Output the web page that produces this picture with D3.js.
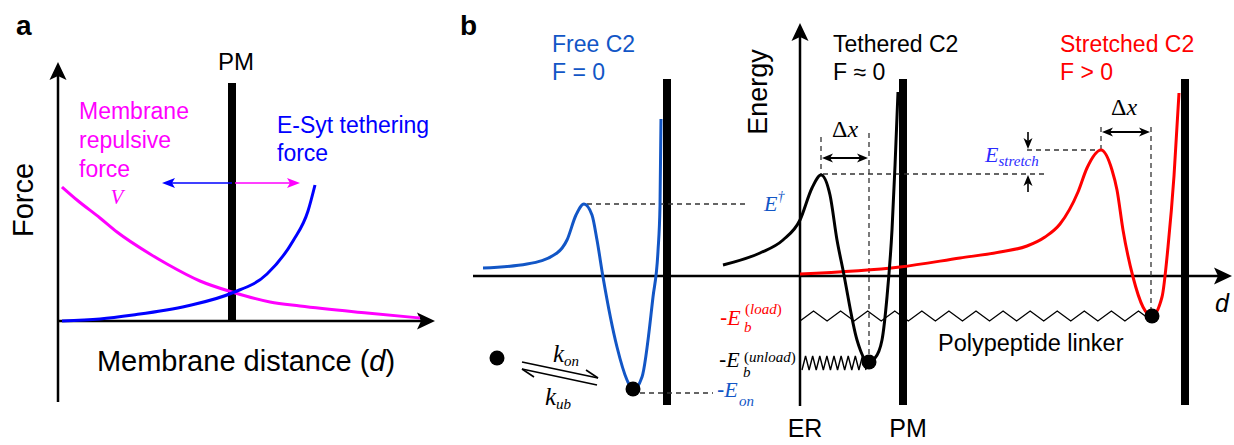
<!DOCTYPE html>
<html><head><meta charset="utf-8">
<script src="https://cdn.jsdelivr.net/npm/d3@7"></script>
<style>body{margin:0;background:#fff}svg{display:block}</style>
</head><body>
<svg id="c" width="1234" height="445"></svg>
<script>
// ---------- Panel a data (d = membrane distance, F = force; schematic units) ----------
const repulsiveForce = [[4,134],[19,121],[42,103],[59,89],[92,67],[109,57],[142,40],[174,29],[212,19],[242,15],[309,8],[362,3]];
const tetheringForce = [[4,0],[42,2],[75,6],[129,15],[174,28],[209,47],[235,80],[250,110],[257,136]];
const pmA = {d:174, top:238};
const forceArrowF = 138;
const repulsiveArrow = [177, 242];
const tetheringArrow = [174, 104];

// ---------- Panel b data (d offset from ER, energy; schematic units) ----------
const freeC2 = [[-317,8],[-273,12],[-243,23],[-233,36],[-224,61],[-216,72],[-208,61],[-203,36],[-197,-1],[-183,-71],[-173,-104],[-167,-114],[-158,-101],[-147,-21],[-142,25],[-140,70],[-139,157]];
const tetheredC2 = [[-77,11],[-40,23],[-17,36],[0,56],[12,88],[21,101],[30,81],[37,36],[43,6],[57,-64],[68,-86],[75,-82],[82,-64],[87,-21],[92,46],[95,110],[98,184]];
const stretchedC2 = [[0,2],[100,9],[160,18],[200,24],[227,30],[245,39],[260,52],[278,84],[287,108],[301,126],[312,106],[317,86],[323,46],[333,-1],[343,-31],[352,-40],[362,-21],[368,29],[374,100],[379,183]];
const membranesB = [-133, 103, 385];
const membraneTopB = 197, membraneBottomB = -129;
const boundStates = [[-167,-113,'#000'],[69,-86,'#000'],[352,-40,'#000']];
const freeState = [-303,-82];
const barrierFree = {d:-216, E:72, dashEnd:-52};
const onLevel = {E:-117, from:-160, to:-87};
const tetheredDx = {peak:21, well:69, top:143, arrowE:118};
const stretchedDx = {peak:301, well:351, top:149, arrowE:144};
const tetheredBarrierLine = {E:102, from:23, to:246};
const stretchedBarrierLine = {E:126, from:227, to:301};
const eStretchArrowD = 228;
const linker = {from:0, to:352, E:-40, amp:5, teeth:13};
const spring = {from:2, to:66, E:-87, amp:7, teeth:9};

const sans = "'Liberation Sans', Arial, Helvetica, sans-serif";
const serif = "'Liberation Serif', 'Times New Roman', serif";
const BLUE_B = '#1256c6', BLUE_A = '#0000ff', MAG = '#ff00ff', RED = '#ff0000', BLUE_S = '#2b2bff';

const svg = d3.select('#c');

const xa = d3.scaleLinear().domain([0,377]).range([58,435]);
const ya = d3.scaleLinear().domain([0,260]).range([321,61]);
const xb = d3.scaleLinear().domain([-330,435]).range([470,1235]);
const yb = d3.scaleLinear().domain([-130,255]).range([406,21]);

function head(g, x, y, ang, len, wid, notch, color){
  g.append('path')
    .attr('d', `M0,0 L${-len},${-wid/2} L${-len+notch},0 L${-len},${wid/2} Z`)
    .attr('transform', `translate(${x},${y}) rotate(${ang})`)
    .attr('fill', color);
}
function txt(g, x, y, s, size, opts={}){
  const t = g.append('text').attr('x',x).attr('y',y)
    .attr('font-family', opts.family||sans).attr('font-size',size)
    .attr('fill', opts.fill||'#000');
  if(opts.anchor) t.attr('text-anchor',opts.anchor);
  if(opts.italic) t.attr('font-style','italic');
  if(opts.bold) t.attr('font-weight','bold');
  t.text(s);
  return t;
}

// ================= Panel a =================
const A = svg.append('g');
txt(A, 16, 35, 'a', 28, {bold:true});
A.append('line').attr('x1',xa(0)).attr('x2',xa(0)).attr('y1',ya(-81)).attr('y2',ya(250)).attr('stroke','#000').attr('stroke-width',2.5);
head(A, xa(0), ya(259), -90, 18, 17, 4, '#000');
A.append('line').attr('x1',xa(0)).attr('x2',xa(367)).attr('y1',ya(0)).attr('y2',ya(0)).attr('stroke','#000').attr('stroke-width',2.5);
head(A, xa(377), ya(0), 0, 18, 17, 4, '#000');
A.append('line').attr('x1',xa(pmA.d)).attr('x2',xa(pmA.d)).attr('y1',ya(0)).attr('y2',ya(pmA.top)).attr('stroke','#000').attr('stroke-width',8);
const lineA = d3.line().x(d=>xa(d[0])).y(d=>ya(d[1])).curve(d3.curveMonotoneX);
A.append('path').attr('d',lineA(repulsiveForce)).attr('fill','none').attr('stroke',MAG).attr('stroke-width',3);
A.append('path').attr('d',lineA(tetheringForce)).attr('fill','none').attr('stroke',BLUE_A).attr('stroke-width',3);
A.append('line').attr('x1',xa(tetheringArrow[0])).attr('x2',xa(tetheringArrow[1])+8).attr('y1',ya(forceArrowF)).attr('y2',ya(forceArrowF)).attr('stroke',BLUE_A).attr('stroke-width',1.6);
head(A, xa(tetheringArrow[1]), ya(forceArrowF), 180, 13, 10, 3, BLUE_A);
A.append('line').attr('x1',xa(repulsiveArrow[0])).attr('x2',xa(repulsiveArrow[1])-8).attr('y1',ya(forceArrowF)).attr('y2',ya(forceArrowF)).attr('stroke',MAG).attr('stroke-width',1.6);
head(A, xa(repulsiveArrow[1]), ya(forceArrowF), 0, 13, 10, 3, MAG);
txt(A, xa(178), ya(251), 'PM', 24, {anchor:'middle'});
txt(A, xa(21), ya(202), 'Membrane', 23, {fill:MAG});
txt(A, xa(21), ya(173), 'repulsive', 23, {fill:MAG});
txt(A, xa(21), ya(144), 'force', 23, {fill:MAG});
txt(A, xa(59), ya(117), 'V', 21, {fill:MAG, family:serif, italic:true, anchor:'middle'});
txt(A, xa(219), ya(188), 'E-Syt tethering', 23, {fill:BLUE_A});
txt(A, xa(219), ya(160), 'force', 23, {fill:BLUE_A});
A.append('text').attr('transform',`translate(${xa(-25)},${ya(121)}) rotate(-90)`)
  .attr('text-anchor','middle').attr('font-family',sans).attr('font-size',29).text('Force');
const xl = A.append('text').attr('x',xa(188)).attr('y',ya(-50)).attr('text-anchor','middle')
  .attr('font-family',sans).attr('font-size',29);
xl.append('tspan').text('Membrane distance (');
xl.append('tspan').attr('font-style','italic').text('d');
xl.append('tspan').text(')');

// ================= Panel b =================
const B = svg.append('g');
txt(B, 460, 35, 'b', 28, {bold:true});
const lineB = d3.line().x(d=>xb(d[0])).y(d=>yb(d[1])).curve(d3.curveMonotoneX);
const dash = (g,x1,y1,x2,y2)=>g.append('line').attr('x1',x1).attr('y1',y1).attr('x2',x2).attr('y2',y2)
  .attr('stroke','#333').attr('stroke-width',1.3).attr('stroke-dasharray','5,4');

B.append('line').attr('x1',xb(-327)).attr('x2',xb(422)).attr('y1',yb(0)).attr('y2',yb(0)).attr('stroke','#000').attr('stroke-width',2.5);
head(B, xb(432), yb(0), 0, 18, 17, 4, '#000');
B.append('line').attr('x1',xb(0)).attr('x2',xb(0)).attr('y1',yb(-130)).attr('y2',yb(243)).attr('stroke','#000').attr('stroke-width',2.5);
head(B, xb(0), yb(253), -90, 18, 17, 4, '#000');

membranesB.forEach(m=>{
  B.append('line').attr('x1',xb(m)).attr('x2',xb(m)).attr('y1',yb(membraneBottomB)).attr('y2',yb(membraneTopB))
    .attr('stroke','#000').attr('stroke-width',8);
});

dash(B, xb(barrierFree.d+3), yb(barrierFree.E), xb(barrierFree.dashEnd), yb(barrierFree.E));
dash(B, xb(onLevel.from), yb(onLevel.E), xb(onLevel.to), yb(onLevel.E));
dash(B, xb(tetheredDx.peak), yb(tetheredDx.top-4), xb(tetheredDx.peak), yb(101));
dash(B, xb(tetheredDx.well), yb(tetheredDx.top), xb(tetheredDx.well), yb(-86));
dash(B, xb(tetheredBarrierLine.from), yb(tetheredBarrierLine.E), xb(tetheredBarrierLine.to), yb(tetheredBarrierLine.E));
dash(B, xb(stretchedBarrierLine.from), yb(stretchedBarrierLine.E), xb(stretchedBarrierLine.to), yb(stretchedBarrierLine.E));
dash(B, xb(stretchedDx.peak), yb(stretchedDx.top), xb(stretchedDx.peak), yb(126));
dash(B, xb(stretchedDx.well), yb(stretchedDx.top), xb(stretchedDx.well), yb(-40));

[tetheredDx, stretchedDx].forEach(o=>{
  const y = yb(o.arrowE);
  B.append('line').attr('x1',xb(o.peak)+4).attr('x2',xb(o.well)-4).attr('y1',y).attr('y2',y).attr('stroke','#000').attr('stroke-width',1.8);
  head(B, xb(o.peak)+1, y, 180, 11, 9, 3, '#000');
  head(B, xb(o.well)-1, y, 0, 11, 9, 3, '#000');
});
B.append('line').attr('x1',xb(eStretchArrowD)).attr('x2',xb(eStretchArrowD)).attr('y1',yb(144)).attr('y2',yb(132)).attr('stroke','#000').attr('stroke-width',1.6);
head(B, xb(eStretchArrowD), yb(126)-1, 90, 11, 9, 3, '#000');
B.append('line').attr('x1',xb(eStretchArrowD)).attr('x2',xb(eStretchArrowD)).attr('y1',yb(84)).attr('y2',yb(96)).attr('stroke','#000').attr('stroke-width',1.6);
head(B, xb(eStretchArrowD), yb(102)+1, -90, 11, 9, 3, '#000');

function zig(o){
  const pts=[]; const n=o.teeth*2; const step=(o.to-o.from)/n;
  for(let i=0;i<=n;i++) pts.push([o.from+i*step, o.E + (i%2===0? -o.amp : o.amp)]);
  return pts;
}
B.append('path').attr('d',d3.line().x(d=>xb(d[0])).y(d=>yb(d[1]))(zig(linker))).attr('fill','none').attr('stroke','#000').attr('stroke-width',1.4);
B.append('path').attr('d',d3.line().x(d=>xb(d[0])).y(d=>yb(d[1]))(zig(spring))).attr('fill','none').attr('stroke','#000').attr('stroke-width',1.4);

B.append('path').attr('d',lineB(freeC2)).attr('fill','none').attr('stroke',BLUE_B).attr('stroke-width',3);
B.append('path').attr('d',lineB(stretchedC2)).attr('fill','none').attr('stroke',RED).attr('stroke-width',3);
B.append('path').attr('d',lineB(tetheredC2)).attr('fill','none').attr('stroke','#000').attr('stroke-width',3);

boundStates.forEach(s=>B.append('circle').attr('cx',xb(s[0])).attr('cy',yb(s[1])).attr('r',7.5).attr('fill',s[2]));
B.append('circle').attr('cx',xb(freeState[0])).attr('cy',yb(freeState[1])).attr('r',7.5).attr('fill','#000');

const kTop = [[-278,-86],[-202,-102]], kBot = [[-278,-93],[-203,-109]];
B.append('line').attr('x1',xb(kTop[0][0])).attr('y1',yb(kTop[0][1])).attr('x2',xb(kTop[1][0])).attr('y2',yb(kTop[1][1])).attr('stroke','#000').attr('stroke-width',1.6);
B.append('line').attr('x1',xb(kTop[1][0])).attr('y1',yb(kTop[1][1])).attr('x2',xb(kTop[1][0])-12).attr('y2',yb(kTop[1][1])-8).attr('stroke','#000').attr('stroke-width',1.6);
B.append('line').attr('x1',xb(kBot[0][0])).attr('y1',yb(kBot[0][1])).attr('x2',xb(kBot[1][0])).attr('y2',yb(kBot[1][1])).attr('stroke','#000').attr('stroke-width',1.6);
B.append('line').attr('x1',xb(kBot[0][0])).attr('y1',yb(kBot[0][1])).attr('x2',xb(kBot[0][0])+12).attr('y2',yb(kBot[0][1])+8).attr('stroke','#000').attr('stroke-width',1.6);
const kon = B.append('text').attr('x',xb(-247)).attr('y',yb(-86)).attr('font-family',serif).attr('font-style','italic').attr('font-size',25);
kon.append('tspan').text('k'); kon.append('tspan').attr('font-size',15).attr('dy',4).text('on');
const kub = B.append('text').attr('x',xb(-255)).attr('y',yb(-129)).attr('font-family',serif).attr('font-style','italic').attr('font-size',25);
kub.append('tspan').text('k'); kub.append('tspan').attr('font-size',15).attr('dy',4).text('ub');

txt(B, xb(-248), yb(224), 'Free C2', 23, {fill:BLUE_B});
txt(B, xb(-248), yb(196), 'F = 0', 23, {fill:BLUE_B});
txt(B, xb(33), yb(224), 'Tethered C2', 23);
txt(B, xb(33), yb(196), 'F \u2248 0', 23);
txt(B, xb(260), yb(224), 'Stretched C2', 23, {fill:RED});
txt(B, xb(260), yb(196), 'F > 0', 23, {fill:RED});
B.append('text').attr('transform',`translate(${xb(-33)},${yb(184)}) rotate(-90)`)
  .attr('text-anchor','middle').attr('font-family',sans).attr('font-size',27).text('Energy');
txt(B, xb(5), yb(-161), 'ER', 25, {anchor:'middle'});
txt(B, xb(108), yb(-161), 'PM', 25, {anchor:'middle'});
txt(B, xb(415), yb(-36), 'd', 25, {italic:true});
txt(B, xb(138), yb(-75), 'Polypeptide linker', 23.5);

[[45,139],[324,161]].forEach(p=>{
  const t = B.append('text').attr('x',xb(p[0])).attr('y',yb(p[1])).attr('text-anchor','middle').attr('font-family',serif).attr('font-size',24);
  t.append('tspan').text('\u0394'); t.append('tspan').attr('font-style','italic').text('x');
});

const et = B.append('text').attr('x',xb(-36)).attr('y',yb(65)).attr('font-family',serif).attr('font-style','italic').attr('font-size',22).attr('fill',BLUE_B);
et.append('tspan').text('E'); et.append('tspan').attr('font-size',14).attr('dy',-10).text('\u2020');
const es = B.append('text').attr('x',xb(185)).attr('y',yb(114)).attr('font-family',serif).attr('font-style','italic').attr('font-size',22).attr('fill',BLUE_S);
es.append('tspan').text('E'); es.append('tspan').attr('font-size',15).attr('dy',4).text('stretch');

function eLabel(x, yE, color, sup, supE, subE, subTxt){
  const t = B.append('text').attr('x',xb(x)).attr('y',yb(yE)).attr('font-size',22).attr('fill',color);
  t.append('tspan').attr('font-family',sans).text('-');
  t.append('tspan').attr('font-family',serif).attr('font-style','italic').text('E');
  if(sup){
    const s = B.append('text').attr('x',xb(x)+25).attr('y',yb(supE)).attr('font-size',15).attr('fill',color).attr('font-family',serif);
    s.append('tspan').text('(');
    s.append('tspan').attr('font-style','italic').text(sup);
    s.append('tspan').text(')');
  }
  B.append('text').attr('x',xb(x)+(sup?24:22)).attr('y',yb(subE)).attr('font-size',15).attr('fill',color)
    .attr('font-family',serif).attr('font-style','italic').text(subTxt);
}
eLabel(-80, -49, RED, 'load', -38, -56, 'b');
eLabel(-81, -91, '#000', 'unload', -86, -101, 'b');
eLabel(-83, -121, BLUE_B, null, 0, -130, 'on');
</script>
</body></html>
